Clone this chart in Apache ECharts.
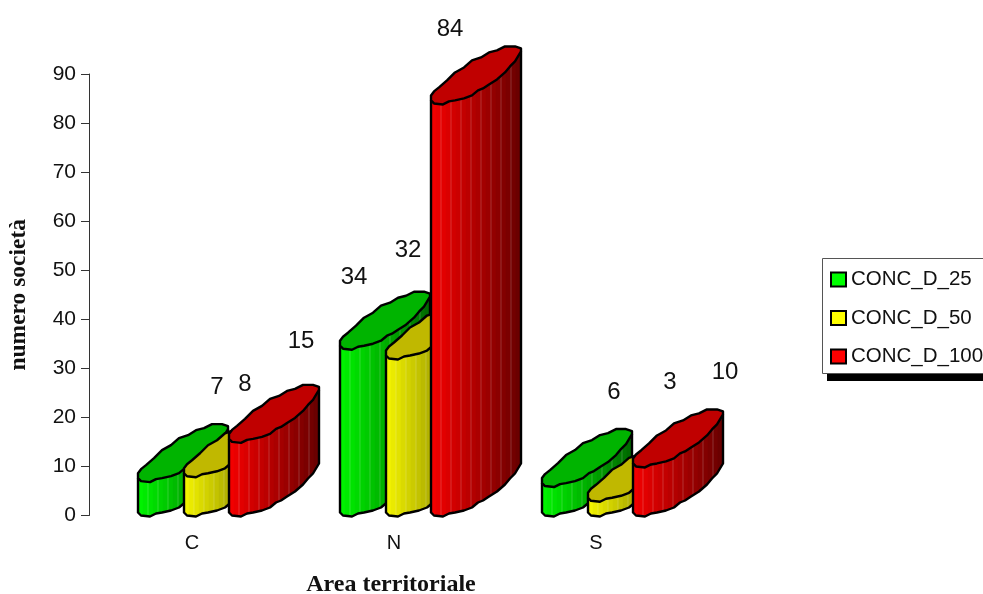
<!DOCTYPE html>
<html>
<head>
<meta charset="utf-8">
<style>
  html, body { margin: 0; padding: 0; background: #fff; }
  #chart { width: 983px; height: 594px; }
</style>
<script src="https://cdn.jsdelivr.net/npm/echarts@6/dist/echarts.min.js"></script>
</head>
<body>
<div id="chart"></div>
<script>
const categories = ['C', 'N', 'S'];
const conc25 = [7, 34, 6];
const conc50 = [8, 32, 3];
const conc100 = [15, 84, 10];
const seriesNames = ['CONC_D_25', 'CONC_D_50', 'CONC_D_100'];
const yTicks = { min: 0, max: 90, interval: 10 };

// per-series look and shift from the category centre
const seriesLook = [
    { value: conc25, rgb: [0, 255, 0], top: '#00b400', shift: -54, swatch: '#00ff00' },
    { value: conc50, rgb: [255, 255, 0], top: '#c0b800', shift: -8, swatch: '#ffff00' },
    { value: conc100, rgb: [255, 0, 0], top: '#c00000', shift: 37, swatch: '#ff0000' }
];

// where each number floats, relative to the front top corner of its cylinder
const labelOffsets = [
    [[79, -94], [14, -71], [72, -94]],
    [[61, -92], [22, -108], [82, -118]],
    [[72, -101], [19, -74], [92, -94]]
];

// oblique footprint of the cylinder, px right / px up, a little bumpy like the original
const frontEdge = [[0, 3], [3, 0], [12, -1], [18, 2], [24, 3], [33, 5], [41, 8], [47, 13], [52, 15], [58, 19], [66, 24], [74, 31], [79, 37], [84, 42], [90, 52]];
const backEdge = [[90, 55], [84, 57], [74, 57], [66, 53], [58, 51], [50, 46], [41, 43], [33, 36], [24, 31], [16, 23], [8, 16], [3, 12], [0, 8]];
const STRIP = 5;

function frontY(x) {
    for (let i = 1; i < frontEdge.length; i++) {
        const a = frontEdge[i - 1], b = frontEdge[i];
        if (x <= b[0]) return a[1] + (b[1] - a[1]) * (x - a[0]) / (b[0] - a[0]);
    }
    return frontEdge[frontEdge.length - 1][1];
}

function shade(rgb, t) {
    const k = 0.95 - 0.53 * t;
    return 'rgb(' + rgb.map(c => Math.round(c * k)).join(',') + ')';
}

function cylinderItem(look, seriesIndex) {
    return function (params, api) {
        const idx = api.value(0);
        const v = api.value(1);
        const top = api.coord([idx, v]);
        const base = api.coord([idx, 0]);
        const x0 = Math.round(top[0] + look.shift);
        const children = [];

        // side wall, a row of thin strips going darker to the right
        const n = Math.round(90 / STRIP);
        for (let s = 0; s < n; s++) {
            const a = s * STRIP, b = (s + 1) * STRIP;
            children.push({
                type: 'polygon',
                shape: { points: [
                    [x0 + a, top[1] - frontY(a)], [x0 + b, top[1] - frontY(b)],
                    [x0 + b, base[1] - frontY(b)], [x0 + a, base[1] - frontY(a)]
                ] },
                style: { fill: shade(look.rgb, s / (n - 1)), stroke: shade(look.rgb, s / (n - 1)), lineWidth: 0.5 }
            });
            if (s > 0 && s % 2 === 0) {
                children.push({
                    type: 'line',
                    shape: { x1: x0 + a, y1: top[1] - frontY(a), x2: x0 + a, y2: base[1] - frontY(a) },
                    style: { stroke: 'rgba(255,255,255,0.2)', lineWidth: 1 }
                });
            }
        }

        // outline of the wall
        const wall = frontEdge.map(p => [x0 + p[0], base[1] - p[1]]);
        const last = frontEdge[frontEdge.length - 1];
        wall.push([x0 + last[0], top[1] - last[1]]);
        wall.unshift([x0, top[1] - frontEdge[0][1]]);
        children.push({
            type: 'polyline',
            shape: { points: wall },
            style: { fill: null, stroke: '#000', lineWidth: 2.4, lineJoin: 'round' }
        });

        // lid
        children.push({
            type: 'polygon',
            shape: { points: frontEdge.concat(backEdge).map(p => [x0 + p[0], top[1] - p[1]]) },
            style: { fill: look.top, stroke: '#000', lineWidth: 2.4, lineJoin: 'round' }
        });

        const off = labelOffsets[seriesIndex][idx];
        children.push({
            type: 'text',
            style: {
                text: String(v),
                x: x0 + off[0],
                y: top[1] + off[1],
                align: 'center',
                verticalAlign: 'middle',
                fill: '#111',
                font: '24px "Liberation Sans", Arial, sans-serif'
            }
        });
        return { type: 'group', children: children };
    };
}

const chart = echarts.init(document.getElementById('chart'));
chart.setOption({
    animation: false,
    grid: { left: 91, top: 74, width: 606, height: 441.5, outerBoundsMode: 'none' },
    xAxis: {
        type: 'category',
        data: categories,
        axisLine: { show: false },
        axisTick: { show: false },
        axisLabel: { fontFamily: 'Liberation Sans', fontSize: 20, color: '#111', margin: 18 },
        name: 'Area territoriale',
        nameLocation: 'middle',
        nameGap: 57,
        nameTextStyle: { fontFamily: 'Liberation Serif', fontWeight: 'bold', fontSize: 24, color: '#111', padding: [0, 6, 0, 0] }
    },
    yAxis: {
        type: 'value',
        min: yTicks.min,
        max: yTicks.max,
        interval: yTicks.interval,
        offset: 2,
        splitLine: { show: false },
        axisLine: { show: true, lineStyle: { color: '#333', width: 1 } },
        axisTick: { show: true, length: 8, lineStyle: { color: '#333', width: 1 } },
        axisLabel: { fontFamily: 'Liberation Sans', fontSize: 21, color: '#111', margin: 13 },
        name: 'numero società',
        nameLocation: 'middle',
        nameGap: 58,
        nameRotate: 90,
        nameTextStyle: { fontFamily: 'Liberation Serif', fontWeight: 'bold', fontSize: 23.5, color: '#111' }
    },
    legend: {
        orient: 'vertical',
        left: 830,
        top: 269,
        padding: 0,
        icon: 'rect',
        itemWidth: 15,
        itemHeight: 14,
        itemGap: 17.5,
        data: seriesNames,
        selectedMode: false,
        itemStyle: { borderColor: '#000', borderWidth: 2 },
        textStyle: { fontFamily: 'Liberation Sans', fontSize: 20.5, color: '#111', padding: [0, 0, 5, 0] }
    },
    graphic: [
        { type: 'rect', z: -1, shape: { x: 827, y: 373, width: 160, height: 8 }, style: { fill: '#000' } },
        { type: 'rect', z: -1, shape: { x: 822.5, y: 258.5, width: 170, height: 115 }, style: { fill: '#fff', stroke: '#555', lineWidth: 1 } }
    ],
    series: seriesLook.map((look, i) => ({
        type: 'custom',
        name: seriesNames[i],
        coordinateSystem: 'cartesian2d',
        renderItem: cylinderItem(look, i),
        itemStyle: { color: look.swatch },
        encode: { x: 0, y: 1 },
        data: look.value.map((v, k) => [k, v]),
        z: 2 + i
    }))
});

window.addEventListener('resize', () => chart.resize());
</script>
</body>
</html>
